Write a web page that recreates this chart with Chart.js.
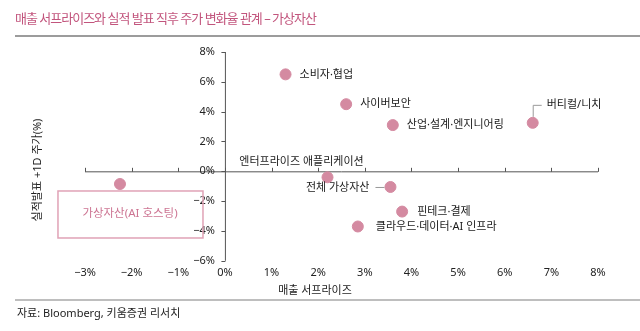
<!DOCTYPE html>
<html><head><meta charset="utf-8">
<script src="https://cdn.jsdelivr.net/npm/chart.js@4/dist/chart.umd.min.js"></script>
<style>html,body{margin:0;padding:0;background:#fff;}#wrap{width:640px;height:331px;position:relative;}</style>
</head><body><div id="wrap"><canvas id="c" width="640" height="331"></canvas></div>
<script>
const categories = ['소비자·협업','사이버보안','산업·설계·엔지니어링','버티컬/니치','엔터프라이즈 애플리케이션','전체 가상자산','핀테크·결제','클라우드·데이터·AI 인프라','가상자산(AI 호스팅)'];
const revenueSurprise = [1.3, 2.6, 3.6, 6.6, 2.2, 3.55, 3.8, 2.85, -2.25];
const priceChange1D = [6.5, 4.5, 3.1, 3.25, -0.4, -1.05, -2.7, -3.7, -0.85];
const xTickValues = [-3,-2,-1,0,1,2,3,4,5,6,7,8];
const xTickLabels = ['−3%','−2%','−1%','0%','1%','2%','3%','4%','5%','6%','7%','8%'];
const yTickValues = [-6,-4,-2,0,2,4,6,8];
const yTickLabels = ['−6%','−4%','−2%','0%','2%','4%','6%','8%'];
const titleText = '매출 서프라이즈와 실적 발표 직후 주가 변화율 관계 – 가상자산';
const xTitle = '매출 서프라이즈';
const yTitle = '실적발표 +1D 주가(%)';
const sourceText = '자료: Bloomberg, 키움증권 리서치';

// label placement (style only)
const labelStyle = [
  {dx:14, dy:0, align:'left'},
  {dx:14, dy:0, align:'left'},
  {dx:14, dy:0, align:'left'},
  {dx:14, dy:-18, align:'left', leader:'up'},
  {dx:-26, dy:-15, align:'center'},
  {dx:-21, dy:1, align:'right', leader:'left'},
  {dx:15, dy:0, align:'left'},
  {dx:18, dy:0, align:'left'},
  {box:true}
];

const FONT = '"Noto Sans", "Noto Sans CJK KR", sans-serif';
const pink = '#d48aa1';

const overlay = {
  id:'overlay',
  beforeDatasetsDraw(chart){
    const ctx = chart.ctx, xs = chart.scales.x, ys = chart.scales.y;
    const x0 = xs.getPixelForValue(0), y0 = ys.getPixelForValue(0);
    ctx.save();
    // title
    ctx.fillStyle = '#c2557d';
    ctx.font = '13px ' + FONT;
    ctx.letterSpacing = '-1px';
    ctx.textBaseline = 'middle';
    ctx.textAlign = 'left';
    ctx.fillText(titleText, 15, 19);
    ctx.letterSpacing = '0px';
    ctx.strokeStyle = '#9c9c9c'; ctx.lineWidth = 2;
    ctx.beginPath(); ctx.moveTo(15, 36); ctx.lineTo(640, 36); ctx.stroke();
    ctx.strokeStyle = '#a8a8a8'; ctx.lineWidth = 1.5;
    ctx.beginPath(); ctx.moveTo(15, 300); ctx.lineTo(640, 300); ctx.stroke();
    ctx.fillStyle = '#222';
    ctx.font = '11px ' + FONT;
    ctx.fillText(sourceText, 17, 314);
    // axes
    ctx.strokeStyle = '#555'; ctx.lineWidth = 1;
    ctx.beginPath();
    ctx.moveTo(xs.left, y0 + 0.5); ctx.lineTo(xs.right, y0 + 0.5);
    ctx.moveTo(x0 + 0.5, ys.top); ctx.lineTo(x0 + 0.5, ys.bottom);
    xTickValues.forEach(v => { const px = Math.round(xs.getPixelForValue(v)) + 0.5; ctx.moveTo(px, y0 + 0.5); ctx.lineTo(px, y0 - 3.5); });
    yTickValues.forEach(v => { const py = Math.round(ys.getPixelForValue(v)) + 0.5; ctx.moveTo(x0 + 0.5, py); ctx.lineTo(x0 - 3.5, py); });
    ctx.stroke();
    ctx.fillStyle = '#222';
    ctx.font = '11px ' + FONT;
    ctx.textAlign = 'right';
    yTickValues.forEach((v,i) => ctx.fillText(yTickLabels[i], x0 - 10, ys.getPixelForValue(v)));
    // axis titles
    ctx.textAlign = 'center';
    ctx.fillText(xTitle, 315, 291);
    ctx.save();
    ctx.translate(38, 170); ctx.rotate(-Math.PI/2);
    ctx.font = '11px ' + FONT;
    ctx.fillText(yTitle, 0, 0);
    ctx.restore();
    ctx.restore();
  },
  afterDatasetsDraw(chart){
    const ctx = chart.ctx, meta = chart.getDatasetMeta(0);
    ctx.save();
    ctx.textBaseline = 'middle';
    meta.data.forEach((pt, i) => {
      const s = labelStyle[i];
      const px = pt.x, py = pt.y;
      if (s.box) {
        ctx.strokeStyle = '#e0a2b6'; ctx.lineWidth = 1.5;
        ctx.strokeRect(px - 62, py + 7, 145, 47);
        ctx.fillStyle = '#cd7593';
        ctx.font = '11.5px ' + FONT;
        ctx.textAlign = 'center';
        ctx.fillText(categories[i], px + 10, py + 30);
        return;
      }
      ctx.fillStyle = '#1a1a1a';
      ctx.font = '11px ' + FONT;
      ctx.textAlign = s.align;
      ctx.fillText(categories[i], px + s.dx, py + s.dy);
      ctx.strokeStyle = '#999'; ctx.lineWidth = 1;
      if (s.leader === 'up') {
        ctx.beginPath(); ctx.moveTo(px + 0.5, py - 6); ctx.lineTo(px + 0.5, py + s.dy + 0.5); ctx.lineTo(px + s.dx - 5, py + s.dy + 0.5); ctx.stroke();
      } else if (s.leader === 'left') {
        ctx.beginPath(); ctx.moveTo(px - 6, py + 0.5); ctx.lineTo(px + s.dx + 6, py + 0.5); ctx.stroke();
      }
    });
    ctx.restore();
  }
};

new Chart(document.getElementById('c'), {
  type: 'scatter',
  data: {
    datasets: [{
      data: revenueSurprise.map((x, i) => ({x, y: priceChange1D[i]})),
      backgroundColor: pink,
      borderColor: pink,
      pointRadius: 5.5,
      pointHoverRadius: 5.5
    }]
  },
  options: {
    responsive: false,
    animation: false,
    events: [],
    layout: { padding: { left: 85, right: 42, top: 52, bottom: 47 } },
    plugins: { legend: { display: false }, tooltip: { enabled: false } },
    scales: {
      x: {
        type: 'linear', min: -3, max: 8,
        grid: { display: false, drawTicks: false },
        border: { display: false },
        afterBuildTicks: (s) => { s.ticks = xTickValues.map(v => ({value: v})); },
        ticks: {
          padding: 5, color: '#222', font: { family: FONT, size: 11 },
          maxRotation: 0, autoSkip: false,
          callback: (v) => xTickLabels[xTickValues.indexOf(v)]
        }
      },
      y: {
        type: 'linear', min: -6, max: 8, display: false,
        afterBuildTicks: (s) => { s.ticks = yTickValues.map(v => ({value: v})); }
      }
    }
  },
  plugins: [overlay]
});
</script>
</body></html>
